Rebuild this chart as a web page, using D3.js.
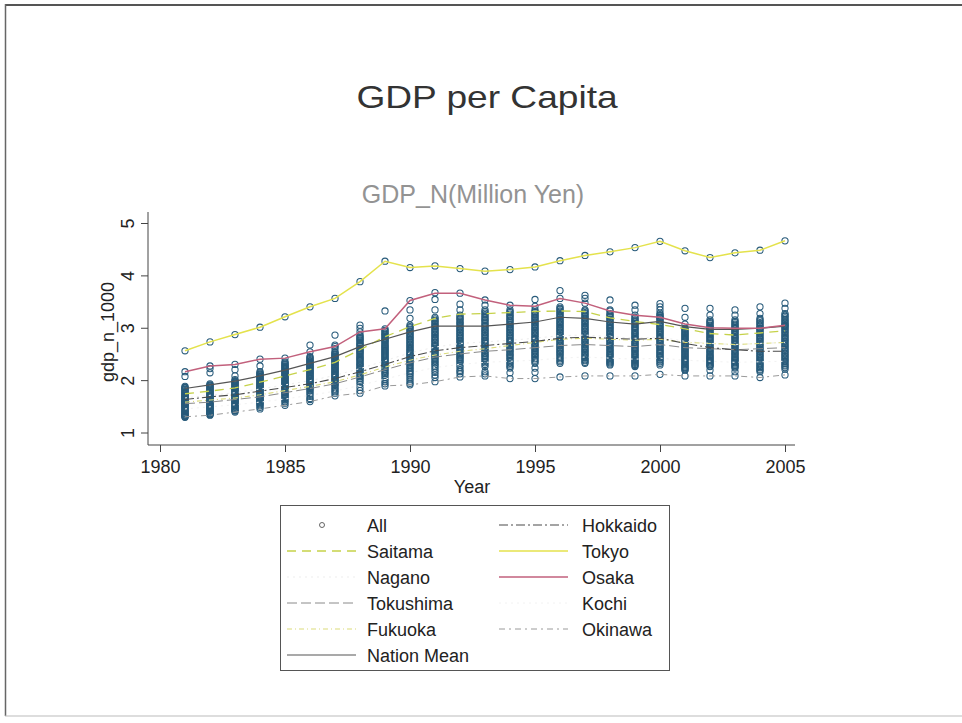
<!DOCTYPE html>
<html>
<head>
<meta charset="utf-8">
<script src="https://cdn.jsdelivr.net/npm/d3@7"></script>
<style>
  html, body { margin: 0; padding: 0; background: #fff; }
  svg { display: block; font-family: "Liberation Sans", Arial, sans-serif; }
</style>
</head>
<body>
<svg id="chart" width="962" height="723"></svg>
<script>
// Years on the x axis
const years = [1981,1982,1983,1984,1985,1986,1987,1988,1989,1990,1991,1992,1993,
               1994,1995,1996,1997,1998,1999,2000,2001,2002,2003,2004,2005];

// GDP per capita of every prefecture, one list per year (million yen)
const allByYear = [
  [2.56,2.16,2.07,1.88,1.86,1.85,1.83,1.82,1.80,1.78,1.77,1.75,1.74,1.72,1.71,1.70,1.68,1.67,1.66,1.65,1.63,1.62,1.61,1.60,1.58,1.57,1.56,1.55,1.53,1.52,1.51,1.49,1.48,1.46,1.45,1.43,1.42,1.40,1.39,1.37,1.36,1.34,1.33,1.32,1.31,1.30,1.29],
  [2.73,2.27,2.22,2.14,1.93,1.91,1.90,1.88,1.86,1.85,1.83,1.81,1.80,1.78,1.77,1.75,1.74,1.72,1.71,1.69,1.68,1.66,1.65,1.64,1.62,1.61,1.60,1.58,1.57,1.55,1.54,1.53,1.51,1.50,1.48,1.47,1.46,1.44,1.43,1.42,1.40,1.39,1.37,1.36,1.35,1.34,1.33],
  [2.87,2.30,2.20,2.08,2.01,1.99,1.97,1.96,1.94,1.93,1.91,1.89,1.88,1.86,1.85,1.83,1.82,1.80,1.79,1.77,1.76,1.74,1.73,1.72,1.70,1.69,1.67,1.66,1.65,1.63,1.62,1.61,1.59,1.58,1.57,1.55,1.54,1.52,1.51,1.49,1.48,1.46,1.45,1.43,1.42,1.41,1.39],
  [3.01,2.40,2.27,2.16,2.14,2.12,2.11,2.09,2.07,2.06,2.04,2.02,2.01,1.99,1.98,1.96,1.94,1.93,1.91,1.90,1.88,1.87,1.85,1.84,1.82,1.81,1.79,1.78,1.76,1.75,1.73,1.72,1.70,1.69,1.67,1.66,1.64,1.63,1.61,1.60,1.58,1.57,1.55,1.53,1.51,1.48,1.45],
  [3.21,2.42,2.35,2.33,2.31,2.29,2.27,2.26,2.24,2.22,2.21,2.19,2.17,2.16,2.14,2.12,2.11,2.09,2.07,2.06,2.04,2.03,2.01,1.99,1.98,1.96,1.94,1.93,1.91,1.89,1.88,1.86,1.84,1.83,1.81,1.79,1.77,1.75,1.73,1.71,1.69,1.67,1.65,1.62,1.59,1.56,1.52],
  [3.40,2.67,2.54,2.45,2.43,2.41,2.39,2.37,2.36,2.34,2.32,2.30,2.29,2.27,2.25,2.24,2.22,2.20,2.19,2.17,2.15,2.14,2.12,2.10,2.09,2.07,2.05,2.04,2.02,2.00,1.99,1.97,1.95,1.94,1.92,1.90,1.88,1.86,1.84,1.82,1.79,1.76,1.73,1.69,1.65,1.63,1.59],
  [3.56,2.86,2.67,2.64,2.60,2.54,2.52,2.50,2.48,2.46,2.45,2.43,2.41,2.39,2.37,2.36,2.34,2.32,2.30,2.29,2.27,2.25,2.23,2.22,2.20,2.18,2.16,2.15,2.13,2.11,2.09,2.08,2.06,2.04,2.02,2.00,1.98,1.96,1.94,1.92,1.90,1.87,1.84,1.81,1.78,1.75,1.70],
  [3.88,3.05,2.99,2.92,2.86,2.84,2.81,2.79,2.77,2.75,2.72,2.70,2.68,2.66,2.64,2.61,2.59,2.57,2.55,2.53,2.51,2.49,2.46,2.44,2.42,2.40,2.38,2.36,2.33,2.31,2.29,2.27,2.24,2.22,2.20,2.17,2.15,2.12,2.09,2.06,2.03,2.00,1.96,1.92,1.86,1.80,1.75],
  [4.27,3.32,2.98,2.95,2.93,2.90,2.88,2.86,2.84,2.81,2.79,2.77,2.75,2.73,2.71,2.68,2.66,2.64,2.62,2.60,2.58,2.56,2.54,2.52,2.50,2.48,2.46,2.44,2.42,2.40,2.38,2.36,2.34,2.32,2.29,2.27,2.24,2.21,2.18,2.15,2.12,2.09,2.05,2.01,1.97,1.93,1.89],
  [4.15,3.52,3.34,3.18,3.05,3.02,3.00,2.97,2.94,2.92,2.89,2.87,2.84,2.82,2.79,2.77,2.74,2.72,2.69,2.67,2.64,2.62,2.59,2.57,2.55,2.52,2.50,2.48,2.45,2.43,2.41,2.38,2.36,2.33,2.31,2.28,2.25,2.22,2.19,2.16,2.13,2.10,2.06,2.02,1.98,1.94,1.91],
  [4.18,3.67,3.54,3.34,3.20,3.17,3.14,3.12,3.09,3.06,3.04,3.01,2.98,2.96,2.93,2.91,2.88,2.86,2.83,2.81,2.78,2.76,2.73,2.71,2.68,2.66,2.64,2.61,2.59,2.56,2.54,2.52,2.49,2.47,2.44,2.42,2.39,2.36,2.33,2.30,2.27,2.23,2.19,2.15,2.10,2.05,1.97],
  [4.13,3.66,3.45,3.34,3.24,3.21,3.18,3.16,3.13,3.10,3.08,3.05,3.02,3.00,2.97,2.95,2.92,2.90,2.87,2.85,2.82,2.80,2.77,2.75,2.72,2.70,2.68,2.65,2.63,2.60,2.58,2.56,2.53,2.51,2.48,2.46,2.43,2.41,2.38,2.35,2.32,2.28,2.24,2.19,2.16,2.12,2.06],
  [4.08,3.53,3.43,3.34,3.31,3.28,3.25,3.22,3.19,3.16,3.14,3.11,3.08,3.05,3.03,3.00,2.97,2.95,2.92,2.90,2.87,2.85,2.82,2.80,2.77,2.75,2.72,2.70,2.67,2.65,2.62,2.60,2.57,2.55,2.52,2.50,2.47,2.45,2.42,2.39,2.36,2.33,2.30,2.26,2.16,2.12,2.08],
  [4.11,3.43,3.34,3.31,3.29,3.26,3.23,3.21,3.18,3.15,3.13,3.10,3.07,3.05,3.02,3.00,2.97,2.95,2.92,2.90,2.87,2.85,2.82,2.80,2.77,2.75,2.72,2.70,2.67,2.65,2.62,2.60,2.57,2.55,2.52,2.49,2.47,2.44,2.41,2.38,2.35,2.32,2.29,2.26,2.23,2.14,2.03],
  [4.16,3.54,3.41,3.34,3.31,3.29,3.26,3.24,3.21,3.19,3.16,3.14,3.11,3.09,3.06,3.04,3.01,2.99,2.96,2.94,2.91,2.89,2.86,2.84,2.81,2.79,2.76,2.74,2.71,2.69,2.66,2.64,2.61,2.59,2.56,2.54,2.51,2.49,2.46,2.44,2.41,2.38,2.35,2.32,2.23,2.15,2.03],
  [4.28,3.71,3.56,3.40,3.37,3.35,3.32,3.30,3.27,3.25,3.22,3.20,3.17,3.15,3.12,3.10,3.07,3.05,3.02,3.00,2.97,2.95,2.92,2.90,2.87,2.85,2.82,2.80,2.77,2.75,2.72,2.70,2.67,2.65,2.62,2.60,2.57,2.55,2.52,2.50,2.47,2.44,2.41,2.38,2.35,2.32,2.06],
  [4.38,3.62,3.56,3.47,3.34,3.32,3.29,3.27,3.24,3.22,3.19,3.17,3.14,3.12,3.09,3.07,3.04,3.02,2.99,2.97,2.94,2.92,2.89,2.87,2.84,2.82,2.79,2.77,2.74,2.72,2.69,2.67,2.64,2.62,2.59,2.57,2.54,2.52,2.49,2.47,2.44,2.42,2.39,2.37,2.34,2.32,2.08],
  [4.45,3.53,3.34,3.32,3.27,3.25,3.22,3.20,3.17,3.15,3.12,3.10,3.07,3.05,3.02,3.00,2.98,2.95,2.93,2.90,2.88,2.85,2.83,2.81,2.78,2.76,2.73,2.71,2.68,2.66,2.64,2.61,2.59,2.56,2.54,2.51,2.49,2.47,2.44,2.42,2.39,2.37,2.35,2.33,2.31,2.29,2.08],
  [4.53,3.43,3.34,3.24,3.20,3.18,3.15,3.13,3.11,3.08,3.06,3.03,3.01,2.99,2.96,2.94,2.91,2.89,2.87,2.84,2.82,2.80,2.77,2.75,2.72,2.70,2.68,2.65,2.63,2.61,2.58,2.56,2.54,2.51,2.49,2.47,2.44,2.42,2.40,2.38,2.36,2.34,2.32,2.30,2.28,2.26,2.08],
  [4.65,3.46,3.40,3.34,3.20,3.28,3.25,3.23,3.20,3.18,3.15,3.13,3.10,3.08,3.05,3.03,3.00,2.98,2.95,2.93,2.91,2.88,2.86,2.83,2.81,2.78,2.76,2.74,2.71,2.69,2.66,2.64,2.62,2.59,2.57,2.54,2.52,2.50,2.47,2.45,2.43,2.40,2.38,2.35,2.32,2.29,2.11],
  [4.47,3.37,3.20,3.07,2.99,2.97,2.95,2.93,2.91,2.89,2.87,2.85,2.83,2.81,2.79,2.77,2.75,2.73,2.71,2.69,2.67,2.65,2.63,2.61,2.59,2.57,2.55,2.53,2.51,2.49,2.47,2.45,2.43,2.41,2.39,2.37,2.35,2.33,2.31,2.29,2.27,2.25,2.24,2.22,2.20,2.19,2.08],
  [4.34,3.37,3.24,3.00,3.15,3.12,3.10,3.08,3.05,3.03,3.01,2.98,2.96,2.94,2.91,2.89,2.87,2.84,2.82,2.80,2.77,2.75,2.73,2.70,2.68,2.66,2.63,2.61,2.59,2.56,2.54,2.52,2.49,2.47,2.45,2.43,2.41,2.39,2.37,2.35,2.33,2.31,2.29,2.27,2.26,2.19,2.08],
  [4.43,3.34,3.24,2.99,3.15,3.12,3.10,3.07,3.05,3.03,3.00,2.98,2.95,2.93,2.91,2.88,2.86,2.83,2.81,2.79,2.76,2.74,2.71,2.69,2.67,2.64,2.62,2.59,2.57,2.55,2.52,2.50,2.48,2.45,2.43,2.41,2.39,2.37,2.35,2.33,2.31,2.29,2.27,2.25,2.23,2.16,2.08],
  [4.48,3.40,3.27,2.99,3.18,3.15,3.13,3.10,3.08,3.05,3.03,3.00,2.98,2.95,2.93,2.90,2.88,2.85,2.83,2.80,2.78,2.75,2.73,2.70,2.68,2.65,2.63,2.60,2.58,2.55,2.53,2.50,2.48,2.45,2.43,2.40,2.38,2.36,2.33,2.31,2.29,2.26,2.24,2.21,2.19,2.16,2.05],
  [4.66,3.47,3.37,3.05,3.27,3.24,3.22,3.19,3.16,3.14,3.11,3.09,3.06,3.03,3.01,2.98,2.96,2.93,2.91,2.88,2.85,2.83,2.80,2.78,2.75,2.73,2.70,2.67,2.65,2.62,2.60,2.57,2.55,2.52,2.50,2.47,2.45,2.42,2.40,2.37,2.35,2.32,2.29,2.27,2.24,2.21,2.10]
];

// Selected prefectures and the national mean, one value per year
const hokkaido   = [1.63,1.68,1.72,1.79,1.86,1.93,2.03,2.16,2.30,2.45,2.56,2.62,2.66,2.70,2.74,2.80,2.82,2.80,2.78,2.80,2.70,2.62,2.58,2.55,2.55];
const saitama    = [1.74,1.79,1.85,1.96,2.08,2.20,2.34,2.58,2.83,3.02,3.18,3.26,3.27,3.29,3.31,3.32,3.31,3.19,3.12,3.06,2.98,2.89,2.86,2.90,2.94];
const tokyo      = [2.56,2.73,2.87,3.01,3.21,3.40,3.56,3.88,4.27,4.15,4.18,4.13,4.08,4.11,4.16,4.28,4.38,4.45,4.53,4.65,4.47,4.34,4.43,4.48,4.66];
const nagano     = [1.66,1.71,1.76,1.83,1.91,1.99,2.09,2.22,2.37,2.52,2.63,2.70,2.73,2.76,2.80,2.85,2.86,2.83,2.80,2.82,2.74,2.70,2.68,2.70,2.72];
const osaka      = [2.16,2.27,2.30,2.40,2.42,2.54,2.64,2.92,2.98,3.52,3.66,3.66,3.53,3.43,3.41,3.56,3.47,3.32,3.24,3.20,3.07,3.00,2.99,2.99,3.05];
const tokushima  = [1.55,1.58,1.63,1.68,1.76,1.84,1.93,2.06,2.20,2.33,2.44,2.50,2.55,2.58,2.62,2.66,2.68,2.66,2.64,2.68,2.62,2.60,2.58,2.60,2.62];
const kochi      = [1.45,1.49,1.53,1.58,1.64,1.71,1.79,1.90,2.02,2.14,2.24,2.30,2.34,2.36,2.38,2.42,2.44,2.42,2.40,2.42,2.38,2.36,2.34,2.35,2.36];
const fukuoka    = [1.58,1.62,1.66,1.72,1.80,1.88,1.97,2.10,2.25,2.38,2.48,2.55,2.60,2.66,2.72,2.78,2.80,2.78,2.76,2.78,2.72,2.70,2.68,2.70,2.72];
const okinawa    = [1.30,1.33,1.39,1.45,1.52,1.59,1.70,1.75,1.89,1.91,1.97,2.06,2.08,2.03,2.03,2.06,2.08,2.08,2.08,2.11,2.08,2.08,2.08,2.05,2.10];
const nationMean = [1.84,1.91,1.98,2.08,2.19,2.32,2.45,2.64,2.78,2.92,3.03,3.03,3.03,3.07,3.11,3.20,3.18,3.11,3.07,3.12,3.02,2.97,2.97,2.99,3.03];

// Tick values and legend labels
const xTicks = [1980,1985,1990,1995,2000,2005];
const yTicks = [1,2,3,4,5];
const legendLeft  = ["All","Saitama","Nagano","Tokushima","Fukuoka","Nation Mean"];
const legendRight = ["Hokkaido","Tokyo","Osaka","Kochi","Okinawa"];

// Line styles per series
const styles = {
  "Hokkaido":    {values: hokkaido,   color: "#4a4a4a", width: 1.1, dash: "9,3,2,3"},
  "Saitama":     {values: saitama,    color: "#c6d24a", width: 1.3, dash: "9,6"},
  "Tokyo":       {values: tokyo,      color: "#e4e24c", width: 1.5, dash: null},
  "Nagano":      {values: nagano,     color: "#ededed", width: 1.0, dash: "2,4"},
  "Osaka":       {values: osaka,      color: "#c2607c", width: 1.5, dash: null},
  "Tokushima":   {values: tokushima,  color: "#8a8a8a", width: 1.0, dash: "10,4"},
  "Kochi":       {values: kochi,      color: "#f2f2f2", width: 1.0, dash: "2,4"},
  "Fukuoka":     {values: fukuoka,    color: "#dcdc7a", width: 1.1, dash: "5,3,1,3"},
  "Okinawa":     {values: okinawa,    color: "#9a9a9a", width: 1.0, dash: "6,4,2,4"},
  "Nation Mean": {values: nationMean, color: "#555555", width: 1.2, dash: null}
};
const drawOrder = ["Nagano","Kochi","Okinawa","Tokushima","Fukuoka","Hokkaido","Saitama","Nation Mean","Osaka","Tokyo"];

const svg = d3.select("#chart");
const font = "'Liberation Sans', Arial, sans-serif";

// Page frame
svg.append("line").attr("x1", 5).attr("x2", 962).attr("y1", 5).attr("y2", 5)
  .attr("stroke", "#555").attr("stroke-width", 2.2);
svg.append("line").attr("x1", 5.5).attr("x2", 5.5).attr("y1", 4).attr("y2", 716)
  .attr("stroke", "#666").attr("stroke-width", 1.5);
svg.append("line").attr("x1", 5).attr("x2", 962).attr("y1", 716).attr("y2", 716)
  .attr("stroke", "#bbb").attr("stroke-width", 1.2);

// Titles
svg.append("text").attr("transform", "translate(487,108) scale(1.16,1)")
  .attr("text-anchor", "middle").attr("font-size", 32).attr("fill", "#333")
  .text("GDP per Capita");
svg.append("text").attr("x", 473).attr("y", 203)
  .attr("text-anchor", "middle").attr("font-size", 25).attr("fill", "#939393")
  .text("GDP_N(Million Yen)");

// Scales
const x = d3.scaleLinear().domain([1980, 2005]).range([160, 785]);
const y = d3.scaleLinear().domain([1, 5]).range([432.5, 223]);
const plotLeft = 148, plotBottom = 445, plotRight = 795, plotTop = 212;

// Axes
const gx = svg.append("g").attr("transform", `translate(0,${plotBottom})`)
  .call(d3.axisBottom(x).tickValues(xTicks).tickFormat(d3.format("d")).tickSize(7).tickSizeOuter(0));
gx.select(".domain").remove();
gx.append("line").attr("x1", plotLeft).attr("x2", plotRight).attr("stroke", "#444");
gx.selectAll(".tick line").attr("stroke", "#444");
gx.selectAll(".tick text").attr("font-size", 18).attr("font-family", font).attr("fill", "#222").attr("dy", "0").attr("y", 28);

const gy = svg.append("g").attr("transform", `translate(${plotLeft},0)`)
  .call(d3.axisLeft(y).tickValues(yTicks).tickFormat(d3.format("d")).tickSize(7).tickSizeOuter(0));
gy.select(".domain").remove();
gy.append("line").attr("y1", plotTop).attr("y2", plotBottom).attr("stroke", "#444");
gy.selectAll(".tick line").attr("stroke", "#444");
gy.selectAll(".tick text").attr("font-size", 18).attr("font-family", font).attr("fill", "#222")
  .attr("transform", "rotate(-90)").attr("x", 0).attr("y", -14).attr("dy", "0")
  .attr("text-anchor", "middle");

svg.append("text").attr("x", 472).attr("y", 493).attr("text-anchor", "middle")
  .attr("font-size", 18).attr("fill", "#222").text("Year");
svg.append("text").attr("transform", "translate(114,332) rotate(-90)")
  .attr("text-anchor", "middle").attr("font-size", 18).attr("fill", "#222")
  .text("gdp_n_1000");

// Scatter of all prefectures
const pts = [];
allByYear.forEach((vals, i) => vals.forEach(v => pts.push({year: years[i], v})));
svg.append("g").selectAll("circle").data(pts).join("circle")
  .attr("cx", d => x(d.year)).attr("cy", d => y(d.v)).attr("r", 3.1)
  .attr("fill", "none").attr("stroke", "#275a7a").attr("stroke-width", 1.05);

// Prefecture lines
const line = d3.line().x((d, i) => x(years[i])).y(d => y(d));
drawOrder.forEach(name => {
  const s = styles[name];
  svg.append("path").datum(s.values).attr("d", line)
    .attr("fill", "none").attr("stroke", s.color).attr("stroke-width", s.width)
    .attr("stroke-dasharray", s.dash);
});

// Legend
const lg = svg.append("g");
lg.append("rect").attr("x", 280.5).attr("y", 505.5).attr("width", 389).attr("height", 165)
  .attr("fill", "#fff").attr("stroke", "#555").attr("stroke-width", 1);
const rowY = i => 525 + i * 26;
function legendKey(name, kx, ky) {
  if (name === "All") {
    lg.append("circle").attr("cx", kx + 35).attr("cy", ky).attr("r", 2.5)
      .attr("fill", "none").attr("stroke", "#555").attr("stroke-width", 0.9);
    return;
  }
  const s = styles[name];
  lg.append("line").attr("x1", kx).attr("x2", kx + 69).attr("y1", ky).attr("y2", ky)
    .attr("stroke", s.color).attr("stroke-width", s.width).attr("stroke-dasharray", s.dash);
}
legendLeft.forEach((name, i) => {
  legendKey(name, 287, rowY(i));
  lg.append("text").attr("x", 367).attr("y", rowY(i) + 6.5).attr("font-size", 18)
    .attr("fill", "#222").text(name);
});
legendRight.forEach((name, i) => {
  legendKey(name, 499, rowY(i));
  lg.append("text").attr("x", 582).attr("y", rowY(i) + 6.5).attr("font-size", 18)
    .attr("fill", "#222").text(name);
});
</script>
</body>
</html>
